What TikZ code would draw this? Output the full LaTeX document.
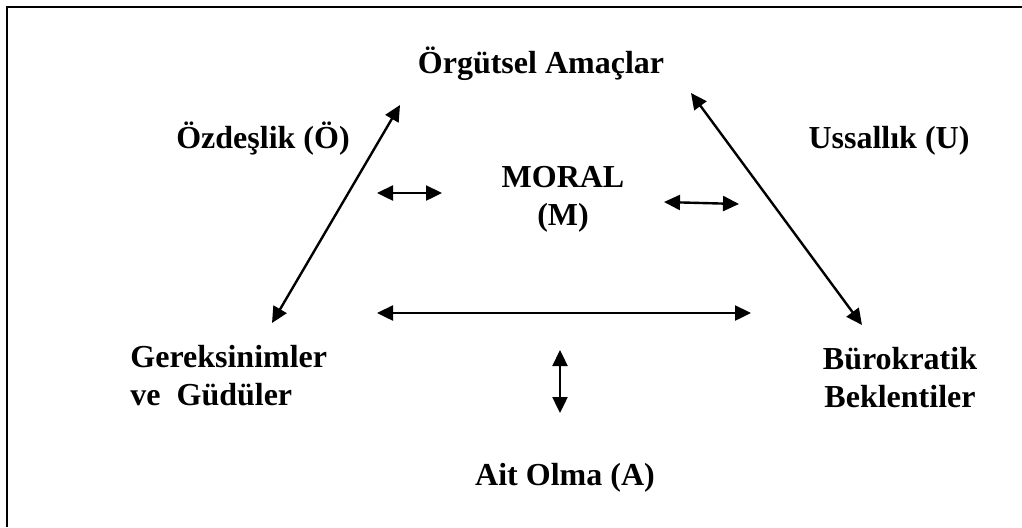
\documentclass[tikz,border=0pt]{standalone}
\usepackage{fontspec}
\setmainfont{Liberation Serif}
\usetikzlibrary{arrows.meta}
\tikzset{
  lbl/.style={font=\fontsize{16}{19}\selectfont\bfseries, inner sep=0pt},
  biarrow/.style={{Triangle[length=8pt,width=7.5pt]}-{Triangle[length=8pt,width=7.5pt]}, line width=1.2pt},
}
\begin{document}
\begin{tikzpicture}[x=0.5pt,y=-0.5pt]
\useasboundingbox (0,0) rectangle (1022,527);
\draw[line width=1pt] (7,527) -- (7,7) -- (1022,7);

% labels (two-line ones are placed by their last line)
\node[lbl,anchor=base] (amac) at (541,73) {Örgütsel Amaçlar};
\node[lbl,anchor=base] (ozdes) at (263,148) {Özdeşlik (Ö)};
\node[lbl,anchor=base] (ussal) at (889,148) {Ussallık (U)};
\node[lbl,anchor=base,align=center] (moral) at (563,225) {MORAL\\(M)};
\node[lbl,anchor=base west,align=left] (gerek) at (130,405) {Gereksinimler\\ve\ \ Güdüler};
\node[lbl,anchor=base,align=center] (burok) at (900,407) {Bürokratik\\Beklentiler};
\node[lbl,anchor=base] (aitol) at (565,485) {Ait Olma (A)};

% arrow ends
\coordinate (ozdtop) at (400,105);
\coordinate (ozdbot) at (272,323);
\coordinate (usstop) at (691,93);
\coordinate (ussbot) at (862,325);
\coordinate (mleft1) at (377,193);
\coordinate (mleft2) at (442,193);
\coordinate (mright1) at (664,202);
\coordinate (mright2) at (739,204);
\coordinate (base1) at (377,313);
\coordinate (base2) at (751,313);
\coordinate (ait1) at (560,350);
\coordinate (ait2) at (560,413);

\draw[biarrow] (ozdbot) -- (ozdtop);
\draw[biarrow] (ussbot) -- (usstop);
\draw[biarrow] (mleft1) -- (mleft2);
\draw[biarrow] (mright1) -- (mright2);
\draw[biarrow] (base1) -- (base2);
\draw[biarrow] (ait1) -- (ait2);
\end{tikzpicture}
\end{document}
